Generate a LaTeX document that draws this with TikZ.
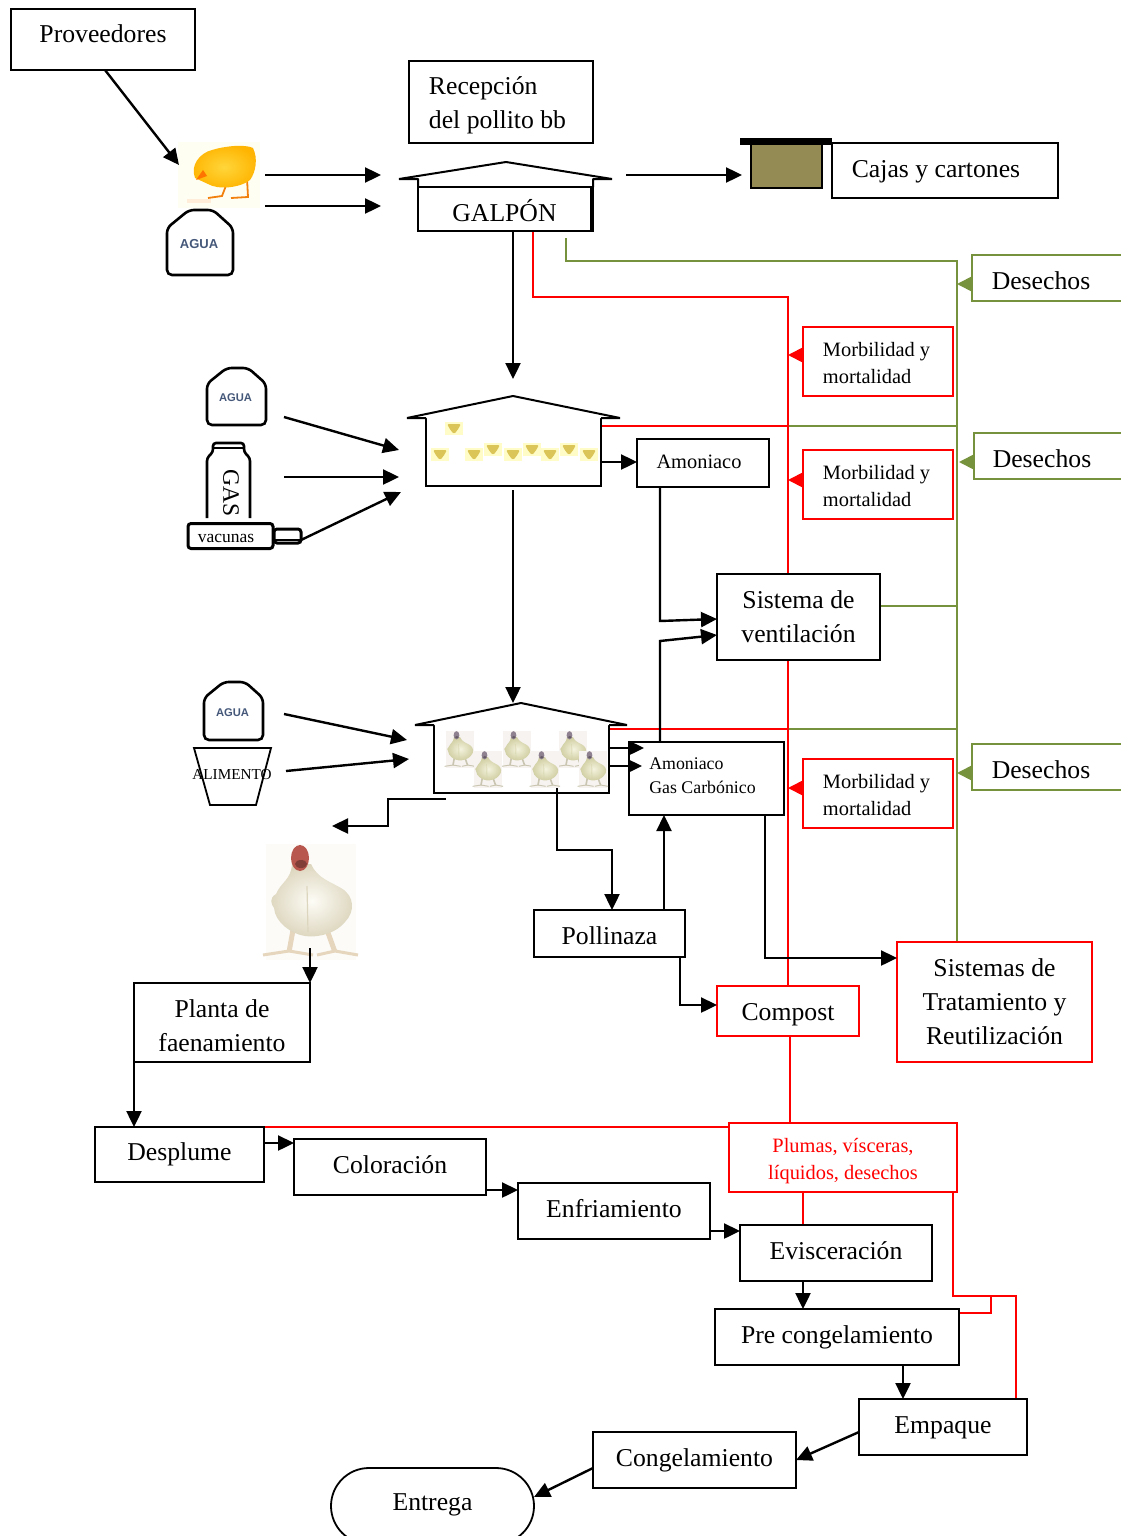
\documentclass[tikz,border=0pt]{standalone}
\usepackage{fontspec}
\setmainfont{Liberation Serif}
\newfontfamily\agua{Liberation Sans}
\usetikzlibrary{arrows.meta,backgrounds,shapes.misc}
\definecolor{dgreen}{HTML}{76923C}
\definecolor{cajacol}{HTML}{948A54}
\definecolor{aguacol}{HTML}{45587A}
\definecolor{chickin}{HTML}{FFD63A}
\definecolor{chickout}{HTML}{FFB400}
\definecolor{hbigbg}{HTML}{FCFBF8}
\definecolor{hbigin}{HTML}{FDFCF6}
\definecolor{hbigout}{HTML}{DDD6BE}
\definecolor{hbighead}{HTML}{B8574E}
\definecolor{hbigleg}{HTML}{E6D6BE}
\definecolor{hsmbg}{HTML}{F6F3F1}
\definecolor{hsmin}{HTML}{F4F3DE}
\definecolor{hsmout}{HTML}{CFCDA0}
\definecolor{hsmhead}{HTML}{8F8190}
\definecolor{hsmleg}{HTML}{C9C5B0}
\tikzset{
  big/.style={font=\fontsize{25.7}{34}\selectfont},
  small/.style={font=\fontsize{20.4}{27}\selectfont},
  tiny/.style={font=\fontsize{17.8}{24}\selectfont},
  boxb/.style={draw=black,line width=1.8pt,fill=white,inner sep=0pt,outer sep=0pt,align=center,text=black},
  boxr/.style={boxb,draw=red},
  arr/.style={-{Triangle[length=16pt,width=15pt]},line width=2.4pt,black},
  arrs/.style={-{Triangle[length=14pt,width=13pt]},line width=2.4pt,black},
  lin/.style={line width=2.4pt,black},
  redl/.style={line width=1.8pt,red},
  grnl/.style={line width=1.8pt,dgreen},
  redtip/.style={-{Triangle[length=15pt,width=15pt]},line width=1.8pt,red},
  grntip/.style={-{Triangle[length=15pt,width=15pt]},line width=1.8pt,dgreen},
  icon/.style={line width=2.6pt,black,rounded corners=5pt,fill=white},
  houseline/.style={line width=2pt,black,line join=bevel}
}
\newcommand{\bx}[7]{\node[#6,minimum width={(#4-#2)*1pt},minimum height={(#5-#3)*1pt}] (#1) at ({(#2+#4)/2},{(#3+#5)/2}) {#7};}
\newcommand{\tl}[2]{\raisebox{#1pt}[0pt][0pt]{#2}}
\newcommand{\bottle}[6]{%
  \begin{scope}[shift={(#2,#3)},xscale=#4/66,yscale=#5/65]
    \draw[icon] (0,18) -- (0,65) -- (66,65) -- (66,18) -- (46,0) -- (22,0) -- cycle;
  \end{scope}
  \node[font=\agua\bfseries\fontsize{#6}{#6}\selectfont,text=aguacol,inner sep=0pt] (#1) at ({#2+#4/2-1},{#3+#5*0.52}) {AGUA};}
\newcommand{\smallchick}[2]{%
  \fill[yellow!22!white] (#1-9,#2-6.5) rectangle (#1+9,#2+6.5);
  \fill[rounded corners=2pt,yellow!70!orange!70!white!85!black] (#1-7,#2-4) -- (#1+7,#2-4) -- (#1+3,#2+3) -- (#1,#2+6) -- (#1-3,#2+3) -- cycle;}
% hen: x, y, scale, bg, outer, inner, head, leg
\newcommand{\henfig}[8]{%
  \begin{scope}[shift={(#1,#2)},scale=#3]
    \fill[#4] (-45,-60) rectangle (45,56);
    \draw[line width=#3*5pt,#8] (-18,26) -- (-22,48) (16,26) -- (24,48);
    \draw[line width=#3*3pt,#8] (-48,51) -- (-22,47) -- (2,51) (6,51) -- (24,47) -- (47,51);
    \shade[inner color=#6,outer color=#5] (-19,-40) .. controls (-20,-24) and (-30,-22) .. (-35,-10)
      .. controls (-42,-6) and (-40,0) .. (-37,4) .. controls (-36,18) and (-20,30) .. (-6,32)
      .. controls (10,34) and (26,28) .. (34,18) .. controls (44,8) and (44,-8) .. (30,-16)
      .. controls (20,-22) and (6,-26) .. (0,-40) -- cycle;
    \draw[#5,line width=#3*1.2pt] (-4,-18) -- (-3,28);
    \fill[#7] (-11,-46) ellipse (9 and 13);
    \fill[#7!70!black] (-10,-40) ellipse (6 and 4);
  \end{scope}}
\begin{document}
\begin{tikzpicture}[x=1pt,y=-1pt]
\useasboundingbox (0,0) rectangle (1121,1536);

% ---- boxes -----
\bx{prov}{11}{9}{195}{70}{boxb,big}{\tl{-3.5}{Proveedores}}
\bx{recep}{409}{61}{593}{143}{boxb,big,align=left}{\rule{0pt}{24pt}Recepción\\del pollito bb\hspace{7pt}\mbox{}}
\bx{cajas}{832}{143}{1058}{198}{boxb,big}{\tl{-6.5}{Cajas y cartones\hspace{18pt}}}

% house 1
\draw[houseline] (418,187) -- (418,179) -- (399,179) -- (506,162) -- (612,179) -- (593,179) -- (593,187);
\bx{galpon}{418}{187}{593}{231}{boxb,big}{\tl{-12}{GALPÓN\hspace{2pt}}}
\draw[houseline] (591,187) -- (591,231);

% house 2
\bx{house2}{426}{418}{601}{486}{boxb}{}
\draw[houseline,fill=white] (426,418) -- (407,418) -- (513,396) -- (620,418) -- (601,418);
\fill[white] (427,416.8) rectangle (600,425);
\foreach \p/\q in {454/428,440/454,474/454,493/449,513/454,532/449,550/454,569/449,589/454}{\smallchick{\p}{\q}}

% house 3
\bx{house3}{434}{725}{609}{793}{boxb}{}
\draw[houseline,fill=white] (434,725) -- (415,725) -- (521,703) -- (627,725) -- (609,725);
\fill[white] (435,723.8) rectangle (608,731);
\foreach \p/\q in {460/750,517/750,573/750,488/770,545/770,593/770}{\henfig{\p}{\q}{0.32}{hsmbg}{hsmout}{hsmin}{hsmhead}{hsmleg}}

% caja
\draw[line width=1.8pt,black,fill=cajacol] (751,144) rectangle (822,188);
\fill[black] (740,138.5) rectangle (832,145);

% red boxes
\bx{mor1}{803}{327}{953}{396}{boxr,small,align=left}{\rule{0pt}{17pt}Morbilidad y\hspace{3pt}\mbox{}\\mortalidad}
\bx{mor2}{803}{450}{953}{519}{boxr,small,align=left}{\rule{0pt}{17pt}Morbilidad y\hspace{3pt}\mbox{}\\mortalidad}
\bx{mor3}{803}{759}{953}{828}{boxr,small,align=left}{\rule{0pt}{17pt}Morbilidad y\hspace{3pt}\mbox{}\\mortalidad}
\bx{compost}{717}{986}{859}{1036}{boxr,big}{\tl{-9}{Compost}}
\bx{trat}{897}{942}{1092}{1062}{boxr,big}{Sistemas de\\Tratamiento y\\Reutilización}
\bx{plumas}{729}{1123}{957}{1192}{boxr,small,text=red}{\rule{0pt}{22pt}Plumas, vísceras,\\líquidos, desechos}

% open green boxes
\bx{des1}{972}{255}{1128}{301}{boxb,big,draw=dgreen}{\tl{-11}{Desechos\hspace{18pt}}}
\bx{des2}{974}{433}{1128}{479}{boxb,big,draw=dgreen}{\tl{-11}{Desechos\hspace{18pt}}}
\bx{des3}{972}{744}{1128}{790}{boxb,big,draw=dgreen}{\tl{-11}{Desechos\hspace{18pt}}}

% black boxes
\bx{amon}{637}{439}{769}{487}{boxb,small}{\tl{-5}{Amoniaco\hspace{8pt}}}
\bx{vent}{717}{574}{880}{660}{boxb,big}{Sistema de\\ventilación}
\bx{amgas}{629}{742}{784}{815}{boxb,tiny,align=left}{Amoniaco\\Gas Carbónico\hspace{8pt}\rule[-6pt]{0pt}{6pt}}
\bx{poll}{534}{910}{685}{957}{boxb,big}{\tl{-10.5}{Pollinaza}}
\bx{planta}{134}{983}{310}{1062}{boxb,big}{\rule{0pt}{24pt}Planta de\\faenamiento}
\bx{despl}{95}{1127}{264}{1182}{boxb,big}{\tl{-5.5}{Desplume}}
\bx{color}{294}{1139}{486}{1195}{boxb,big}{\tl{-6}{Coloración}}
\bx{enfr}{518}{1183}{710}{1239}{boxb,big}{\tl{-6}{Enfriamiento}}
\bx{evis}{740}{1225}{932}{1281}{boxb,big}{\tl{-6}{Evisceración}}
\bx{prec}{715}{1309}{959}{1365}{boxb,big}{\tl{-6}{Pre congelamiento}}
\bx{empa}{859}{1399}{1027}{1455}{boxb,big}{\tl{-6}{Empaque}}
\bx{cong}{593}{1432}{796}{1488}{boxb,big}{\tl{-6}{Congelamiento}}
\node[boxb,big,rounded rectangle,minimum width=203pt,minimum height=76pt] (entrega) at (432.5,1506) {\tl{-4}{Entrega}};

% ---- icons -----
\fill[yellow!5!white] (178,142) rectangle (260,208);
\fill[orange!15!white] (187,199) rectangle (211,203);
\draw[line width=1.8pt,orange!80!brown] (227,183) -- (222,196) -- (208,198) (247,178) -- (248,197) -- (231,198);
\shade[inner color=chickin,outer color=chickout] (195,178) .. controls (190,165) and (200,153) .. (212,150)
  .. controls (225,146) and (245,144) .. (253,148) .. controls (258,158) and (256,172) .. (250,180)
  .. controls (240,188) and (218,190) .. (208,184) -- cycle;
\fill[orange!90!red] (196,180) -- (203,170) -- (207,176) -- cycle;

\bottle{ag1}{167}{210}{66}{65}{13}
\bottle{ag2}{207}{368}{59}{57}{11.2}
\bottle{ag3}{204}{682}{59}{58}{11.2}

\draw[icon,rounded corners=3pt] (207,518) -- (207,458) -- (213,452) -- (213,443) -- (244,443) -- (244,452) -- (250,458) -- (250,518);
\draw[line width=2.2pt] (213,448) -- (244,448);
\node[font=\fontsize{23.5}{24}\selectfont,rotate=-90,inner sep=0pt] (gas) at (231,493) {GAS};
\draw[icon,line width=3pt,rounded corners=3pt] (274,529) rectangle (301,543);
\node[draw,line width=3pt,rounded corners=3pt,fill=white,minimum width=85pt,minimum height=25pt,inner sep=0pt,font=\fontsize{17.5}{18}\selectfont] (vac) at (230.5,536) {\tl{-6}{vacunas\hspace{9pt}}};

\draw[line width=1.8pt] (194,748) -- (271,748) -- (256,805) -- (210,805) -- cycle;
\node[font=\fontsize{15.2}{16}\selectfont,inner sep=0pt] (alim) at (232,775) {ALIMENTO};

\henfig{311}{904}{1}{hbigbg}{hbigout}{hbigin}{hbighead}{hbigleg}

% ---- free ends ----
\coordinate (ch1a) at (265,175); \coordinate (ch1b) at (381,175);
\coordinate (ch2a) at (265,206); \coordinate (ch2b) at (381,206);
\coordinate (cajaA) at (626,175); \coordinate (cajaB) at (742,175);
\coordinate (chickIn) at (179,165);
\coordinate (h2top) at (513,379);
\coordinate (i1a) at (284,417); \coordinate (i1b) at (399,450);
\coordinate (i2a) at (284,477); \coordinate (i2b) at (399,477);
\coordinate (i3a) at (301,540); \coordinate (i3b) at (401,492);
\coordinate (h2out) at (513,490); \coordinate (h3top) at (513,703);
\coordinate (j1a) at (284,714); \coordinate (j1b) at (407,740);
\coordinate (j2a) at (286,771); \coordinate (j2b) at (409,759);
\coordinate (hout) at (446,799); \coordinate (hen) at (332,826);
\coordinate (henout) at (310,948);
\coordinate (grn0) at (566,238);

% ---- connectors ----
\begin{pgfonlayer}{background}
  \fill[white] (0,0) rectangle (1121,1536);
  \draw[grnl] (grn0) |- (957,261) -- (trat.north -| 957,0);
  \draw[grnl] (788,426) -- (958,426);
  \draw[grnl] (788,729) -- (958,729);
  \draw[grnl] (vent.east |- 0,606) -- (957,606);
  \draw[redl] (galpon.south -| 533,0) |- (788,297) -- (compost.north -| 788,0);
  \draw[redl] (house2.north east |- 0,426) -- (788,426);
  \draw[redl] (house3.north east |- 0,729) -- (788,729);
  \draw[redl] (compost.south -| 790,0) -- (plumas.north -| 790,0);
  \draw[redl] (despl.north east) -- (plumas.west |- despl.north east);
  \draw[redl] (plumas.south -| 803,0) -- (evis.north -| 803,0);
  \draw[redl] (plumas.south -| 953,0) |- (1016,1296) -- (empa.north -| 1016,0);
  \draw[redl] (991,1296) |- (prec.east |- 0,1313) -- (prec.east |- 0,1330);
\end{pgfonlayer}

\draw[redtip] (mor1.west |- 0,355) -- (788,355);
\draw[redtip] (mor2.west |- 0,480) -- (788,480);
\draw[redtip] (mor3.west |- 0,788) -- (788,788);
\draw[grntip] (des1.west |- 0,284) -- (957,284);
\draw[grntip] (des2.west |- 0,462) -- (959,462);
\draw[grntip] (des3.west |- 0,773) -- (957,773);

\draw[arr] (prov.south -| 105,0) -- (chickIn);
\draw[arr] (ch1a) -- (ch1b);
\draw[arr] (ch2a) -- (ch2b);
\draw[arr] (cajaA) -- (cajaB);
\draw[arr] (galpon.south -| 513,0) -- (h2top);
\draw[arr] (i1a) -- (i1b);
\draw[arr] (i2a) -- (i2b);
\draw[arr] (i3a) -- (i3b);
\draw[arr] (house2.east |- 0,462) -- (amon.west |- 0,462);
\draw[arr] (h2out) -- (h3top);
\draw[arr] (amon.south -| 660,0) -- (660,621) -- (vent.west |- 0,619);
\draw[arr] (amgas.north -| 660,0) -- (660,641) -- (vent.west |- 0,635);
\draw[arr] (j1a) -- (j1b);
\draw[arr] (j2a) -- (j2b);
\draw[arrs] (house3.east |- 0,748) -- (644,748);
\draw[arrs] (house3.east |- 0,766) -- (642,766);
\draw[arr] (hout) -- (388,799) -- (388,826) -- (hen);
\draw[arr] (557,788) -- (557,850) -- (612,850) -- (poll.north -| 612,0);
\draw[arr] (poll.north -| 664,0) -- (amgas.south -| 664,0);
\draw[arr] (amgas.south -| 741,0) -- (765,815) -- (765,958) -- (trat.west |- 0,958);
\draw[arr] (poll.south -| 642,0) -- (680,957) -- (680,1005) -- (compost.west |- 0,1005);
\draw[arr] (henout) -- (planta.north east);
\draw[arr] (planta.south west) -- (despl.north -| planta.south west);
\draw[arr] (despl.east |- 0,1143) -- (color.west |- 0,1143);
\draw[arr] (color.east |- 0,1190) -- (enfr.west |- 0,1190);
\draw[arr] (enfr.east |- 0,1231) -- (evis.west |- 0,1231);
\draw[arr] (evis.south -| 803,0) -- (prec.north -| 803,0);
\draw[arr] (prec.south -| 903,0) -- (empa.north -| 903,0);
\draw[arr] (empa.west |- 0,1432) -- (cong.east |- 0,1460);
\draw[arr] (cong.west |- 0,1468) -- (entrega.east |- 0,1497);
\draw[lin] (vac.east |- 0,540) -- (i3a);
\end{tikzpicture}
\end{document}
